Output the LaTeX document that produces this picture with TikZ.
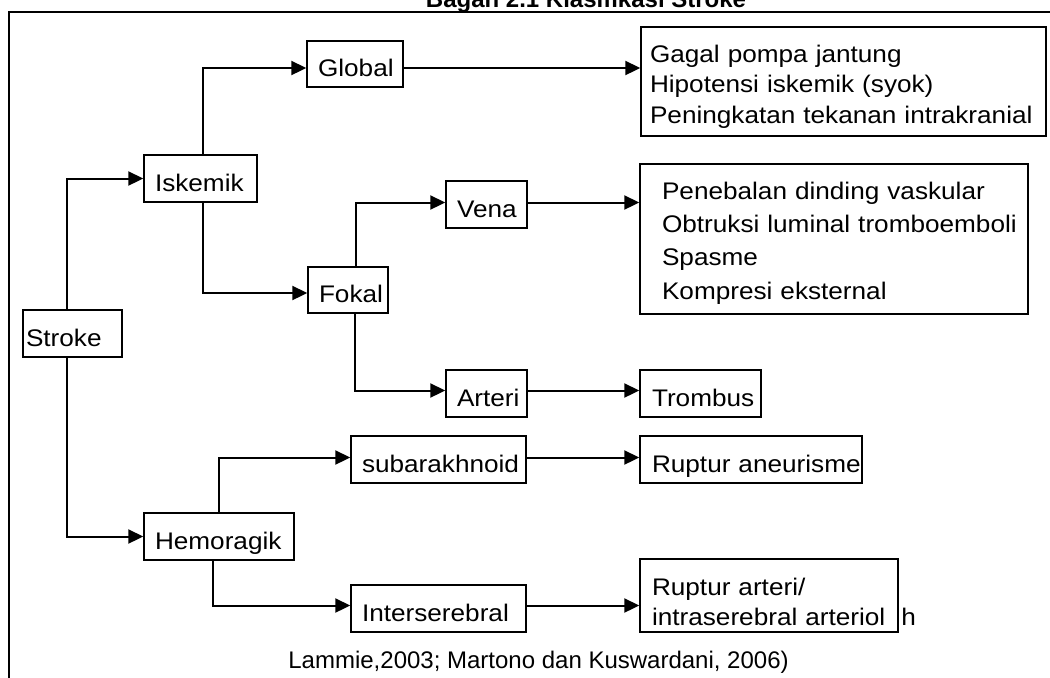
\documentclass[tikz,border=0pt]{standalone}
\usepackage{fontspec}
\setmainfont{Liberation Sans}
\newfontfamily\kotakfont{Liberation Sans}[FakeStretch=1.09]
\usetikzlibrary{arrows.meta}

\begin{document}
\begin{tikzpicture}[x=0.5pt,y=-0.5pt,>={Triangle[length=7.5pt,width=7pt]},
    kotak/.style={draw,line width=0.7pt,fill=white,align=left,
      inner xsep=5.5pt,inner ysep=0pt,minimum height=23.5pt,
      text height=12.5pt,text depth=0pt,
      font=\kotakfont\fontsize{12}{15}\selectfont},
    garis/.style={->,line width=1pt}]
  \useasboundingbox (0,0) rectangle (1050,677);
  \draw[line width=1pt] (9,12) rectangle (1070,700);
  \node[font=\bfseries\fontsize{12}{14}\selectfont,anchor=base] (judul) at (586,7) {Bagan 2.1 Klasifikasi Stroke};

  \node[kotak,text width=46.5pt,inner xsep=1.5pt] (stroke) at (72.5,333.5) {Stroke};
  \node[kotak,text width=45.5pt] (iskemik) at (200.5,178.5) {Iskemik};
  \node[kotak,text width=37pt,minimum height=23pt] (global) at (355,64) {Global};
  \node[kotak,text width=29pt,minimum height=23pt] (fokal) at (348,290) {Fokal};
  \node[kotak,text width=29.5pt] (vena) at (486.5,204.5) {Vena};
  \node[kotak,text width=29.5pt] (arteri) at (486.5,393.5) {Arteri};
  \node[kotak,text width=64pt] (hemoragik) at (219,536.5) {Hemoragik};
  \node[kotak,text width=76.5pt] (subarakhnoid) at (438.5,459.5) {subarakhnoid};
  \node[kotak,text width=76.5pt] (interserebral) at (438.5,608.5) {Interserebral};
  \node[kotak,text width=48.5pt,inner xsep=6pt] (trombus) at (700.5,393.5) {Trombus};
  \node[kotak,text width=99pt,inner xsep=6pt] (aneurisme) at (751,459.5) {\mbox{Ruptur aneurisme}};

  % kotak keterangan
  \node[kotak,text width=193.5pt,inner xsep=4.5pt,minimum height=54.5pt,
    text height=10pt,text depth=29.5pt,font=\kotakfont\fontsize{12}{15.25}\selectfont]
    (gagal) at (843.5,81.5)
    {\mbox{Gagal pompa jantung}\\\mbox{Hipotensi iskemik (syok)}\\\mbox{Peningkatan tekanan intrakranial}};
  \node[kotak,text width=172pt,inner xsep=11pt,minimum height=75pt,
    text height=10pt,text depth=50pt,font=\kotakfont\fontsize{12}{16.67}\selectfont]
    (penebalan) at (834,239)
    {\mbox{Penebalan dinding vaskular}\\\mbox{Obtruksi luminal tromboemboli}\\Spasme\\\mbox{Kompresi eksternal}};
  \node[kotak,text width=117pt,inner xsep=6pt,minimum height=36.5pt,
    text height=10pt,text depth=10.5pt,font=\kotakfont\fontsize{12}{15}\selectfont]
    (arteriol) at (769,595.5)
    {\mbox{Ruptur arteri/}\\\mbox{intraserebral arteriol}};
  \node[font=\kotakfont\fontsize{12}{15}\selectfont,anchor=base west,inner sep=0pt] (sisa) at (901,625) {h};

  \node[font=\fontsize{12}{14}\selectfont,anchor=base west,inner sep=0pt] (sumber) at (288,668)
    {Lammie,2003; Martono dan Kuswardani, 2006)};

  % cabang
  \draw[garis] ([xshift=-3pt]stroke.north) |- (iskemik.west);
  \draw[garis] ([xshift=-3pt]stroke.south) |- (hemoragik.west);
  \draw[garis] ([xshift=1pt]iskemik.north) |- ([yshift=-2pt]global.west);
  \draw[garis] ([xshift=1pt]iskemik.south) |- ([yshift=-1.5pt]fokal.west);
  \draw[garis] ([xshift=4pt]fokal.north) |- ([yshift=1pt]vena.west);
  \draw[garis] ([xshift=3.5pt]fokal.south) |- ([yshift=1.5pt]arteri.west);
  \draw[garis] (hemoragik.north) |- ([yshift=1pt]subarakhnoid.west);
  \draw[garis] ([xshift=-3pt]hemoragik.south) |- ([yshift=1.5pt]interserebral.west);

  \draw[garis] ([yshift=-2pt]global.east) -- ([yshift=-2pt]global.east -| gagal.west);
  \draw[garis] ([yshift=1pt]vena.east) -- ([yshift=1pt]vena.east -| penebalan.west);
  \draw[garis] ([yshift=1.5pt]arteri.east) -- ([yshift=1.5pt]arteri.east -| trombus.west);
  \draw[garis] ([yshift=1pt]subarakhnoid.east) -- ([yshift=1pt]subarakhnoid.east -| aneurisme.west);
  \draw[garis] ([yshift=1.5pt]interserebral.east) -- ([yshift=1.5pt]interserebral.east -| arteriol.west);
\end{tikzpicture}
\end{document}
